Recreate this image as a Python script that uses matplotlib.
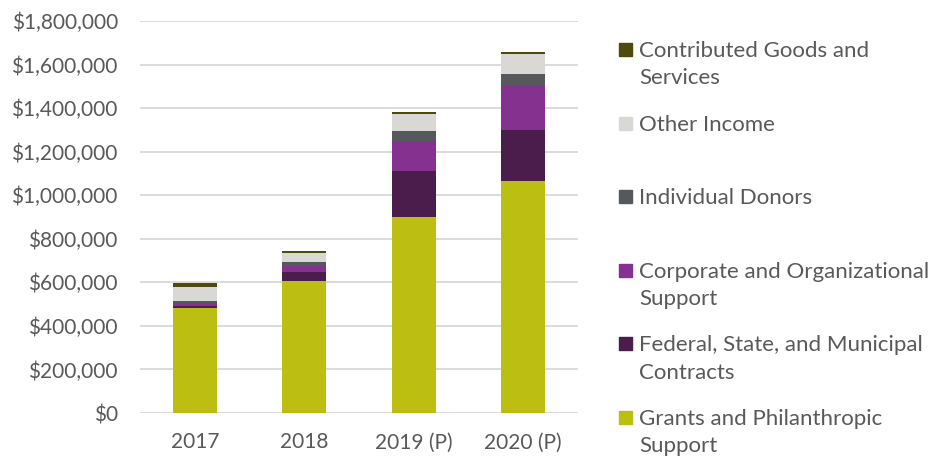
import numpy as np
import matplotlib
matplotlib.use("Agg")
import matplotlib.pyplot as plt
from matplotlib.patches import Rectangle
from matplotlib.ticker import FuncFormatter

years = ["2017", "2018", "2019 (P)", "2020 (P)"]

# revenue by source, bottom to top of each stack
grants = [481000, 604000, 901000, 1064000]
federal = [12000, 42000, 211000, 237000]
corporate = [13000, 27000, 134000, 199000]
individual = [10000, 20000, 50000, 58000]
other_income = [63000, 43000, 78000, 89000]
contributed = [17000, 8000, 9000, 12000]

series = [grants, federal, corporate, individual, other_income, contributed]
labels = ["Grants and Philanthropic\nSupport",
          "Federal, State, and Municipal\nContracts",
          "Corporate and Organizational\nSupport",
          "Individual Donors",
          "Other Income",
          "Contributed Goods and\nServices"]
colors = ["#BCBE12", "#4A1D4D", "#84318F", "#55595C", "#D9D8D4", "#4D4A0C"]

plt.rcParams['font.family'] = ['Lato', 'DejaVu Sans']
text_color = "#595959"

W, H = 944, 459
fig = plt.figure(figsize=(W / 100, H / 100), dpi=100)
ax = fig.add_axes([140 / W, 1 - 413 / H, 438 / W, 392 / H])

x = np.arange(len(years))
bottom = np.zeros(len(years))
for vals, col in zip(series, colors):
    ax.bar(x, vals, 0.4, bottom=bottom, color=col, zorder=3)
    bottom += np.array(vals)

ax.set_xlim(-0.5, len(years) - 0.5)
ax.set_ylim(0, 1800000)
ax.set_yticks(np.arange(0, 1800001, 200000))
ax.yaxis.set_major_formatter(FuncFormatter(lambda v, p: f"${v:,.0f}"))
ax.set_xticks(x)
ax.set_xticklabels(years)
ax.grid(axis='y', color="#D9D9D9", linewidth=1.3, zorder=0)
for s in ax.spines.values():
    s.set_visible(False)
ax.tick_params(axis='y', length=0, pad=16, labelsize=15, labelcolor=text_color)
ax.tick_params(axis='x', length=0, pad=14, labelsize=15, labelcolor=text_color)

# legend, top entry first, drawn by hand so the square sits on the first line
for i, (lab, col) in enumerate(zip(labels[::-1], colors[::-1])):
    base = 57 + i * 73.6
    fig.add_artist(Rectangle((619 / W, 1 - (base - 1) / H), 13 / W, 13 / H,
                             transform=fig.transFigure, color=col))
    first, *rest = lab.split("\n")
    fig.text(639 / W, 1 - base / H, first, fontsize=16, color=text_color,
             va='baseline', ha='left')
    for j, line in enumerate(rest):
        fig.text(639 / W, 1 - (base + 27.5 * (j + 1)) / H, line, fontsize=16,
                 color=text_color, va='baseline', ha='left')

fig.savefig("out.png", dpi=100)
